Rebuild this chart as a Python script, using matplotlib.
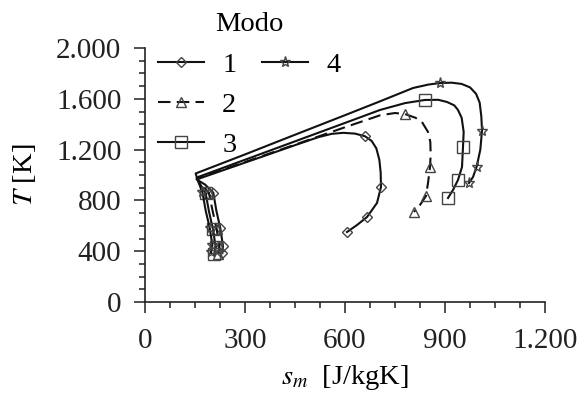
import matplotlib
matplotlib.use("Agg")
import matplotlib.pyplot as plt
from matplotlib.ticker import MultipleLocator, FuncFormatter
from matplotlib.lines import Line2D

plt.rcParams['font.family'] = ['Liberation Serif', 'DejaVu Serif']
plt.rcParams['mathtext.fontset'] = 'stix'

# Mode 1 (diamond)
s1 = [232, 234, 226, 214, 205, 180, 155, 250, 350, 450, 520, 560, 595, 630, 660, 680, 694, 703, 707, 708, 696, 666, 636, 606]
T1 = [385, 440, 580, 720, 860, 925, 965, 1052, 1143, 1235, 1298, 1324, 1332, 1326, 1305, 1268, 1210, 1120, 1020, 906, 780, 669, 606, 551]
m1 = [0, 1, 2, 4, 14, 19, 21, 23]
# Mode 2 (triangle, dashed)
s2 = [220, 223, 215, 203, 192, 172, 155, 300, 450, 600, 705, 750, 780, 812, 831, 849, 856, 857, 855, 849, 843, 825, 807]
T2 = [380, 440, 575, 715, 855, 925, 970, 1102, 1239, 1376, 1470, 1488, 1480, 1450, 1417, 1339, 1260, 1160, 1063, 937, 835, 764, 709]
m2 = [0, 1, 2, 4, 12, 18, 20, 22]
# Mode 3 (square)
s3 = [208, 212, 204, 192, 182, 165, 155, 300, 450, 600, 705, 780, 840, 880, 906, 928, 939, 950, 956, 954, 951, 939, 924, 909]
T3 = [375, 435, 572, 712, 855, 930, 980, 1120, 1265, 1410, 1512, 1566, 1591, 1592, 1575, 1548, 1512, 1450, 1340, 1220, 1063, 961, 882, 819]
m3 = [0, 1, 2, 4, 12, 19, 21, 23]
# Mode 4 (star)
s4 = [198, 202, 194, 182, 172, 160, 152, 300, 450, 600, 705, 804, 850, 885, 920, 950, 975, 993, 1004, 1009, 1011, 1006, 995, 984, 972]
T4 = [390, 450, 585, 720, 868, 945, 1012, 1162, 1317, 1471, 1580, 1685, 1712, 1724, 1727, 1717, 1690, 1640, 1570, 1460, 1350, 1200, 1066, 984, 937]
m4 = [0, 1, 2, 4, 13, 20, 22, 24]

labels = ['1', '2', '3', '4']

fig = plt.figure(figsize=(5.84, 3.93), dpi=100)
ax = fig.add_axes([145/584, 1 - 302/393, 400/584, 254/393])

lc = '#111111'
mc = '#444444'
common = dict(color=lc, lw=1.5, markerfacecolor='none', markeredgecolor=mc, markeredgewidth=1.0)
h1, = ax.plot(s1, T1, '-', marker='D', markersize=5.5, markevery=m1, label=labels[0], **common)
h2, = ax.plot(s2, T2, '--', marker='^', markersize=7, markevery=m2, dashes=(6, 3), label=labels[1], **common)
h3, = ax.plot(s3, T3, '-', marker='s', markersize=8, markevery=m3, label=labels[2], **common)
h4, = ax.plot(s4, T4, '-', marker='*', markersize=8, markevery=m4, label=labels[3], **common)

ax.set_xlim(0, 1200)
ax.set_ylim(0, 2000)
ax.xaxis.set_major_locator(MultipleLocator(300))
ax.xaxis.set_minor_locator(MultipleLocator(75))
ax.yaxis.set_major_locator(MultipleLocator(400))
ax.yaxis.set_minor_locator(MultipleLocator(100))
fmt = FuncFormatter(lambda v, p: f"{int(round(v)):,}".replace(',', '.'))
ax.xaxis.set_major_formatter(fmt)
ax.yaxis.set_major_formatter(fmt)
for sp in ['top', 'right']:
    ax.spines[sp].set_visible(False)
for sp in ['left', 'bottom']:
    ax.spines[sp].set_linewidth(1.2)
    ax.spines[sp].set_color('#222222')
ax.tick_params(which='major', direction='out', length=8, width=1.1, labelsize=21, colors='#222222')
ax.tick_params(axis='x', which='major', pad=11)
ax.tick_params(axis='y', which='major', pad=9)
ax.tick_params(which='minor', direction='out', length=4, width=1.1, colors='#222222')

ax.set_xlabel(r'$s_m$  [J/kgK]', fontsize=20.5, labelpad=6)
ax.set_ylabel(r'$T$ [K]', fontsize=20.5, labelpad=13)

blank = Line2D([], [], color='none')
leg = fig.legend([h1, h2, h3, h4, blank, blank], ['1', '2', '3', '4', '', ''],
                 ncol=2, loc='upper left', bbox_to_anchor=(141/584, 1.012),
                 frameon=False, fontsize=20.5, title='Modo', title_fontsize=20.5,
                 handlelength=1.6, handletextpad=0.65, columnspacing=0.9,
                 labelspacing=0.5, borderpad=0.1)

fig.savefig('out.png', dpi=100)
